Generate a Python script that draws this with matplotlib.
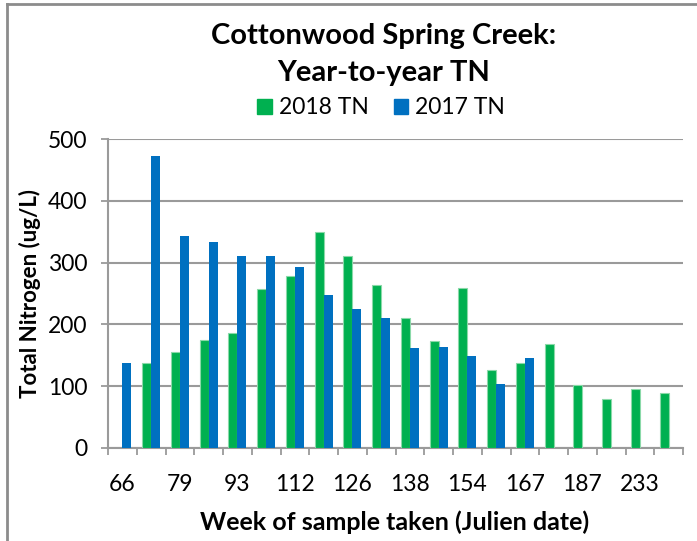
import matplotlib
matplotlib.use("Agg")
import matplotlib.pyplot as plt
from matplotlib.lines import Line2D
from matplotlib.patches import Patch
import numpy as np

plt.rcParams['font.family'] = ['Lato', 'DejaVu Sans']

# Julian-date labels shown on every other sampling week
tick_labels = ["66", "79", "93", "112", "126", "138", "154", "167", "187", "233"]
n_weeks = 20

# Total nitrogen (ug/L); None = no sample that week
tn_2018 = [None, 138, 155, 174, 186, 257, 279, 349, 311, 263,
           211, 173, 259, 126, 137, 169, 102, 79, 96, 89]
tn_2017 = [138, 473, 343, 334, 311, 311, 293, 248, 225, 210,
           162, 163, 149, 103, 146, None, None, None, None, None]

GREEN = "#00B050"
BLUE = "#0070C0"
GRID = "#9a9a9a"

W, H = 697, 541
fig = plt.figure(figsize=(W / 100, H / 100), dpi=100)
ax = fig.add_axes([108 / W, 1 - 448 / H, 575 / W, 309 / H])

x = np.arange(n_weeks)
w = 0.31


def to_arr(vals):
    return np.array([np.nan if v is None else v for v in vals], dtype=float)


g = to_arr(tn_2018)
b = to_arr(tn_2017)
mg = ~np.isnan(g)
mb = ~np.isnan(b)
ax.bar(x[mg] - w / 2, g[mg], width=w, color=GREEN, edgecolor="#8ad9a8",
       linewidth=0.8, zorder=3)
ax.bar(x[mb] + w / 2, b[mb], width=w, color=BLUE, linewidth=0, zorder=3)

ax.set_xlim(-0.5, n_weeks - 0.5)
ax.set_ylim(0, 500)
ax.set_yticks(np.arange(0, 501, 100))
ax.yaxis.grid(True, color=GRID, linewidth=1.5, zorder=0)
ax.set_axisbelow(True)

# category boundary ticks, labels at every other category centre
ax.set_xticks(np.arange(0, n_weeks, 2))
ax.set_xticklabels(tick_labels)
ax.set_xticks(np.arange(-0.5, n_weeks, 1), minor=True)
ax.tick_params(axis="x", which="major", length=0, pad=19, labelsize=16.5)
ax.tick_params(axis="x", which="minor", length=5, width=1.3, color=GRID)
ax.tick_params(axis="y", length=5, width=1.3, color=GRID, labelsize=16.5, pad=10)

for side in ("top", "right"):
    ax.spines[side].set_visible(False)
for side in ("left", "bottom"):
    ax.spines[side].set_color(GRID)
    ax.spines[side].set_linewidth(1.5)

fig.text(30 / W, 1 - 294 / H, "Total Nitrogen (ug/L)", rotation=90, ha="center",
         va="center", fontsize=16, fontweight="bold")
fig.text(395 / W, 1 - 522 / H, "Week of sample taken (Julien date)", ha="center",
         va="center", fontsize=18, fontweight="bold")

fig.text(384 / W, 1 - 36 / H, "Cottonwood Spring Creek:", ha="center",
         va="center", fontsize=21, fontweight="bold")
fig.text(384 / W, 1 - 73 / H, "Year-to-year TN", ha="center",
         va="center", fontsize=21, fontweight="bold")

handles = [Patch(color=GREEN, label="2018 TN"), Patch(color=BLUE, label="2017 TN")]
fig.legend(handles=handles, loc="center", bbox_to_anchor=(381 / W, 1 - 108 / H),
           ncol=2, frameon=False, fontsize=16.5, handlelength=0.65, handleheight=0.65,
           handletextpad=0.3, columnspacing=1.1)

# outer frame of the chart area
fig.add_artist(Line2D([7 / W, 1], [1 - 4 / H, 1 - 4 / H], color="#8c8c8c",
                      linewidth=2, transform=fig.transFigure))
fig.add_artist(Line2D([7 / W, 7 / W], [0, 1 - 4 / H], color="#8c8c8c",
                      linewidth=2, transform=fig.transFigure))

fig.savefig("out.png", dpi=100)
